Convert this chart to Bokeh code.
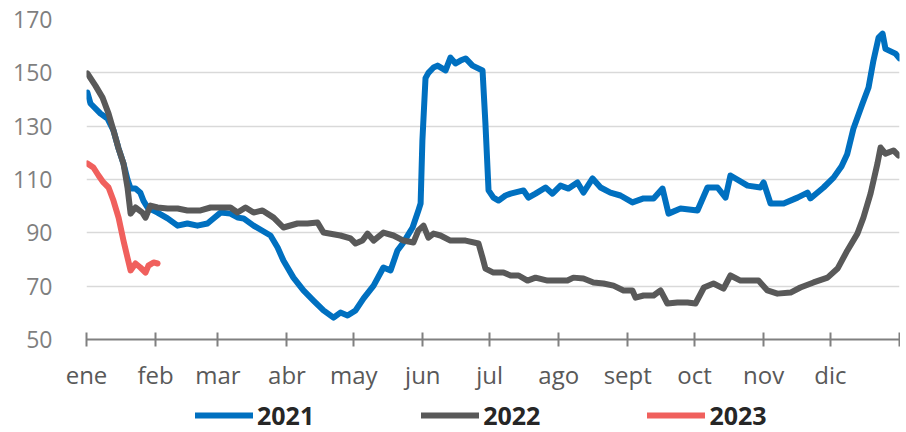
from bokeh.plotting import figure
from bokeh.models import FixedTicker, Legend, LegendItem, Range1d
from bokeh.layouts import column
from bokeh.embed import file_html
from bokeh.resources import INLINE

# ---- data (day of year, value) ----
month_ticks = [0, 31, 59, 90, 120, 151, 181, 212, 243, 273, 304, 334, 365]
month_labels = ["ene", "feb", "mar", "abr", "may", "jun", "jul", "ago", "sept", "oct", "nov", "dic", ""]
y_ticks = [50, 70, 90, 110, 130, 150, 170]

days_2021 = [0.4, 1.8, 6.3, 9.4, 12.1, 14.4, 16.6, 18.4, 19.8, 22.0, 24.2, 25.6, 27.4, 31.9, 36.4, 40.9,
             45.3, 49.8, 54.3, 57.0, 60.2, 64.6, 68.0, 70.5, 75.0, 82.6, 85.8, 88.4, 92.9, 97.4, 101.9,
             106.4, 110.9, 114.0, 117.2, 120.8, 124.4, 128.9, 133.3, 136.5, 139.6, 142.3, 146.4, 149.0,
             150.0, 150.8, 152.2, 153.5, 155.8, 157.6, 161.2, 163.4, 165.7, 167.9, 170.2, 173.3, 177.8,
             179.1, 180.5, 182.7, 185.0, 188.1, 190.4, 196.2, 198.4, 201.6, 206.1, 209.2, 212.8, 216.4,
             220.4, 223.1, 227.2, 230.8, 235.2, 239.7, 245.1, 250.1, 254.6, 258.6, 261.3, 266.7, 274.3,
             278.8, 283.3, 286.9, 289.1, 296.8, 302.6, 304.0, 307.1, 313.0, 319.2, 323.7, 325.0, 330.9,
             335.4, 339.0, 341.5, 344.3, 348.4, 351.1, 353.3, 355.6, 357.4, 358.7, 363.2, 365.0]
vals_2021 = [142.6, 138.5, 134.7, 132.9, 128.4, 121.6, 116.0, 110.0, 106.6, 106.6, 105.0, 102.0, 99.5, 97.6,
             95.4, 92.7, 93.5, 92.7, 93.5, 95.4, 97.6, 97.2, 95.7, 95.4, 92.7, 89.0, 84.5, 79.6, 73.2, 68.4,
             64.6, 60.9, 58.2, 60.1, 59.0, 60.9, 65.4, 70.2, 77.0, 75.9, 83.4, 86.4, 92.0, 98.4, 101.0,
             124.6, 148.0, 150.0, 152.0, 152.7, 150.9, 155.7, 153.5, 154.6, 155.4, 152.7, 150.9, 131.0,
             105.9, 103.2, 102.1, 104.0, 104.7, 105.9, 103.2, 104.7, 107.0, 104.7, 107.7, 106.6, 108.9,
             105.1, 110.4, 107.0, 105.1, 104.0, 101.4, 102.9, 102.9, 106.6, 97.2, 99.1, 98.4, 107.0, 107.0,
             103.2, 111.5, 107.7, 107.0, 108.9, 101.0, 101.0, 103.2, 105.1, 102.9, 107.0, 110.7, 115.0,
             119.5, 129.0, 138.5, 144.5, 154.6, 163.2, 164.7, 159.0, 157.2, 155.4]

days_2022 = [0.4, 4.0, 7.2, 9.9, 12.1, 14.4, 16.6, 18.4, 19.8, 22.0, 25.1, 26.5, 28.7, 31.9, 36.4, 40.9,
             45.3, 51.2, 55.7, 60.2, 64.6, 67.8, 71.4, 75.0, 79.0, 84.0, 88.4, 94.7, 99.2, 103.7, 106.4,
             114.0, 118.5, 120.8, 123.9, 126.2, 128.9, 133.3, 137.8, 142.3, 146.8, 149.0, 151.3, 153.5,
             155.8, 158.9, 163.4, 170.2, 176.0, 177.8, 179.1, 182.7, 187.2, 190.4, 194.0, 198.0, 201.6,
             207.0, 215.9, 218.6, 223.1, 227.6, 232.1, 236.6, 241.1, 245.1, 246.5, 250.1, 254.6, 257.7,
             260.8, 265.3, 269.8, 273.4, 277.2, 281.5, 286.0, 289.1, 293.6, 301.7, 305.7, 310.2, 316.1,
             320.5, 326.4, 332.7, 337.2, 341.6, 346.1, 348.8, 352.0, 355.1, 356.5, 358.7, 362.3, 364.5]
vals_2022 = [149.8, 145.2, 140.7, 134.7, 128.4, 121.6, 116.0, 107.0, 97.2, 99.5, 97.6, 95.7, 100.2, 99.5,
             99.1, 99.1, 98.4, 98.4, 99.5, 99.5, 99.5, 97.6, 99.5, 97.6, 98.4, 95.7, 92.0, 93.5, 93.5, 93.9,
             90.1, 89.0, 87.9, 86.0, 87.1, 89.7, 87.1, 90.1, 89.0, 87.1, 86.4, 90.9, 92.7, 88.2, 89.7, 89.0,
             87.1, 87.1, 86.0, 80.7, 76.6, 75.1, 75.1, 74.0, 74.0, 72.1, 73.2, 72.1, 72.1, 73.2, 72.9, 71.4,
             71.0, 70.2, 68.4, 68.4, 65.7, 66.5, 66.5, 68.4, 63.5, 63.9, 63.9, 63.5, 69.5, 71.0, 69.1, 74.0,
             72.1, 72.1, 68.4, 67.2, 67.6, 69.5, 71.4, 73.2, 76.6, 83.4, 89.7, 95.7, 104.7, 116.0, 122.0,
             119.7, 120.9, 119.0]

days_2023 = [0.4, 3.1, 5.4, 7.6, 9.9, 12.1, 14.4, 16.6, 18.4, 19.8, 22.0, 24.2, 26.5, 27.8, 30.1, 31.9]
vals_2023 = [116.0, 114.5, 111.5, 108.9, 107.0, 102.1, 95.7, 87.1, 80.7, 75.9, 78.5, 77.0, 75.1, 77.7,
             78.9, 78.5]

series_names = ["2021", "2022", "2023"]
series_colors = ["#0070C0", "#595959", "#F0605D"]

FONT = "Open Sans"
LW = 6

p = figure(width=900, height=394, x_range=Range1d(0, 365), y_range=Range1d(50, 170),
           output_backend="svg", toolbar_location=None,
           min_border_left=86, min_border_right=1, min_border_top=19, min_border_bottom=55)
p.outline_line_color = None
p.background_fill_color = "white"
p.border_fill_color = "white"

p.xgrid.visible = False
p.ygrid.grid_line_color = "#d9d9d9"
p.ygrid.grid_line_width = 1.3

# y axis
p.yaxis.ticker = FixedTicker(ticks=y_ticks)
p.yaxis.axis_line_color = None
p.yaxis.major_tick_line_color = None
p.yaxis.minor_tick_line_color = None
p.yaxis.major_label_standoff = 28
p.yaxis.major_label_text_font = FONT
p.yaxis.major_label_text_font_size = "23px"
p.yaxis.major_label_text_color = "#7f7f7f"

# x axis
p.xaxis.ticker = FixedTicker(ticks=month_ticks)
p.xaxis.major_label_overrides = {t: lab for t, lab in zip(month_ticks, month_labels)}
p.xaxis.axis_line_color = "#808080"
p.xaxis.axis_line_width = 2
p.xaxis.major_tick_line_color = "#808080"
p.xaxis.major_tick_line_width = 2
p.xaxis.major_tick_in = 7
p.xaxis.major_tick_out = 7
p.xaxis.minor_tick_line_color = None
p.xaxis.major_label_standoff = 11
p.xaxis.major_label_text_font = FONT
p.xaxis.major_label_text_font_size = "24px"
p.xaxis.major_label_text_color = "#595959"

series = [(days_2021, vals_2021), (days_2022, vals_2022), (days_2023, vals_2023)]
for (days, vals), col in zip(series, series_colors):
    p.line(days, vals, line_color=col, line_width=LW, line_join="round", line_cap="round")

# ---- legend strip below the chart (same series, drawn out of its visible range) ----
leg = figure(width=900, height=38, x_range=Range1d(0, 365), y_range=Range1d(0, 1),
             output_backend="svg", toolbar_location=None,
             min_border_left=86, min_border_right=1, min_border_top=4, min_border_bottom=0)
leg.outline_line_color = None
leg.axis.visible = False
leg.grid.visible = False
leg_renderers = [leg.line(days, vals, line_color=col, line_width=LW, line_cap="round")
                 for (days, vals), col in zip(series, series_colors)]
legend = Legend(items=[LegendItem(label=n, renderers=[r]) for n, r in zip(series_names, leg_renderers)],
                orientation="horizontal", location="left",
                glyph_width=58, glyph_height=20, label_standoff=4, spacing=107,
                padding=0, margin=109, border_line_alpha=0, background_fill_alpha=0,
                label_text_font=FONT, label_text_font_size="25px", label_text_font_style="bold",
                label_text_color="#262626")
leg.add_layout(legend, "center")

layout = column(p, leg, spacing=0)
open("out.html", "w").write(file_html(layout, INLINE))
